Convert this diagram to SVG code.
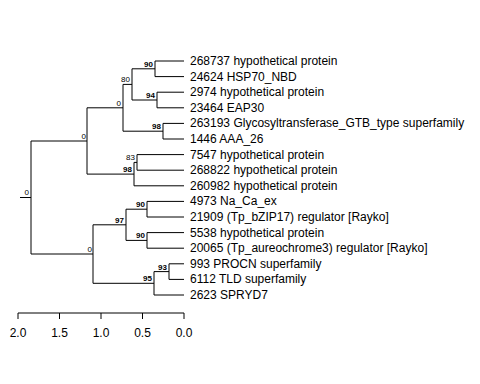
<svg xmlns="http://www.w3.org/2000/svg" width="480" height="384" viewBox="0 0 480 384">
<style>
.e{stroke:#000;stroke-width:1;fill:none}
.t{font-family:"Liberation Sans",Arial,sans-serif;font-size:12px;fill:#000}
.b{font-family:"Liberation Sans",Arial,sans-serif;font-size:8px;fill:#000;text-anchor:end}
.bb{font-weight:bold}
.ax{font-family:"Liberation Sans",Arial,sans-serif;font-size:12px;fill:#000;text-anchor:middle}
</style>
<rect width="480" height="384" fill="#fff"/>
<g id="connectors">
<path class="e" d="M20,197.5H31M31,141V254"/>
<path class="e" d="M31,141H87M87,107.8V174.1"/>
<path class="e" d="M87,107.8H123M123,84.4V131.2"/>
<path class="e" d="M123,84.4H132M132,68.8V100"/>
<path class="e" d="M132,68.8H155M155,61V76.6M155,61H184M155,76.6H184"/>
<path class="e" d="M132,100H157M157,92.2V107.8M157,92.2H184M157,107.8H184"/>
<path class="e" d="M123,131.2H163M163,123.4V139M163,123.4H184M163,139H184"/>
<path class="e" d="M87,174.1H134M134,162.4V185.8M134,185.8H184"/>
<path class="e" d="M134,162.4H137M137,154.6V170.2M137,154.6H184M137,170.2H184"/>
<path class="e" d="M31,254H93M93,224.8V283.3"/>
<path class="e" d="M93,224.8H126M126,209.2V240.4"/>
<path class="e" d="M126,209.2H147M147,201.4V217M147,201.4H184M147,217H184"/>
<path class="e" d="M126,240.4H147M147,232.6V248.2M147,232.6H184M147,248.2H184"/>
<path class="e" d="M93,283.3H154M154,271.6V295M154,295H184"/>
<path class="e" d="M154,271.6H169M169,263.8V279.4M169,263.8H184M169,279.4H184"/>
</g>
<g id="leaves">
<g id="leaf1"><text class="t" x="190" y="65">268737 hypothetical protein</text></g>
<g id="leaf2"><text class="t" x="190" y="80.6">24624 HSP70_NBD</text></g>
<g id="leaf3"><text class="t" x="190" y="96.2">2974 hypothetical protein</text></g>
<g id="leaf4"><text class="t" x="190" y="111.8">23464 EAP30</text></g>
<g id="leaf5"><text class="t" x="190" y="127.4">263193 Glycosyltransferase_GTB_type superfamily</text></g>
<g id="leaf6"><text class="t" x="190" y="143">1446 AAA_26</text></g>
<g id="leaf7"><text class="t" x="190" y="158.6">7547 hypothetical protein</text></g>
<g id="leaf8"><text class="t" x="190" y="174.2">268822 hypothetical protein</text></g>
<g id="leaf9"><text class="t" x="190" y="189.8">260982 hypothetical protein</text></g>
<g id="leaf10"><text class="t" x="190" y="205.4">4973 Na_Ca_ex</text></g>
<g id="leaf11"><text class="t" x="190" y="221">21909 (Tp_bZIP17) regulator [Rayko]</text></g>
<g id="leaf12"><text class="t" x="190" y="236.6">5538 hypothetical protein</text></g>
<g id="leaf13"><text class="t" x="190" y="252.2">20065 (Tp_aureochrome3) regulator [Rayko]</text></g>
<g id="leaf14"><text class="t" x="190" y="267.8">993 PROCN superfamily</text></g>
<g id="leaf15"><text class="t" x="190" y="283.4">6112 TLD superfamily</text></g>
<g id="leaf16"><text class="t" x="190" y="299">2623 SPRYD7</text></g>
</g>
<g id="support">
<g id="n_root"><text class="b" x="29" y="195">0</text></g>
<g id="n_upper"><text class="b" x="86" y="139">0</text></g>
<g id="n_A"><text class="b" x="121" y="105.5">0</text></g>
<g id="n_80"><text class="b" x="130" y="82">80</text></g>
<g id="n_90a"><text class="b bb" x="153" y="66.5">90</text></g>
<g id="n_94"><text class="b bb" x="155" y="97.5">94</text></g>
<g id="n_98a"><text class="b bb" x="161" y="129">98</text></g>
<g id="n_83"><text class="b" x="135" y="160">83</text></g>
<g id="n_98b"><text class="b bb" x="132" y="172">98</text></g>
<g id="n_lower"><text class="b" x="92" y="252">0</text></g>
<g id="n_97"><text class="b bb" x="124" y="222.5">97</text></g>
<g id="n_90b"><text class="b bb" x="145" y="207">90</text></g>
<g id="n_90c"><text class="b bb" x="145" y="238">90</text></g>
<g id="n_95"><text class="b bb" x="152" y="281">95</text></g>
<g id="n_93"><text class="b bb" x="167" y="269.5">93</text></g>
</g>
<g id="axis">
<path class="e" d="M18,313H184M18,313V319M59.5,313V319M101,313V319M142.5,313V319M184,313V319"/>
<text class="ax" x="18" y="337">2.0</text>
<text class="ax" x="59.5" y="337">1.5</text>
<text class="ax" x="101" y="337">1.0</text>
<text class="ax" x="142.5" y="337">0.5</text>
<text class="ax" x="184" y="337">0.0</text>
</g>
</svg>
